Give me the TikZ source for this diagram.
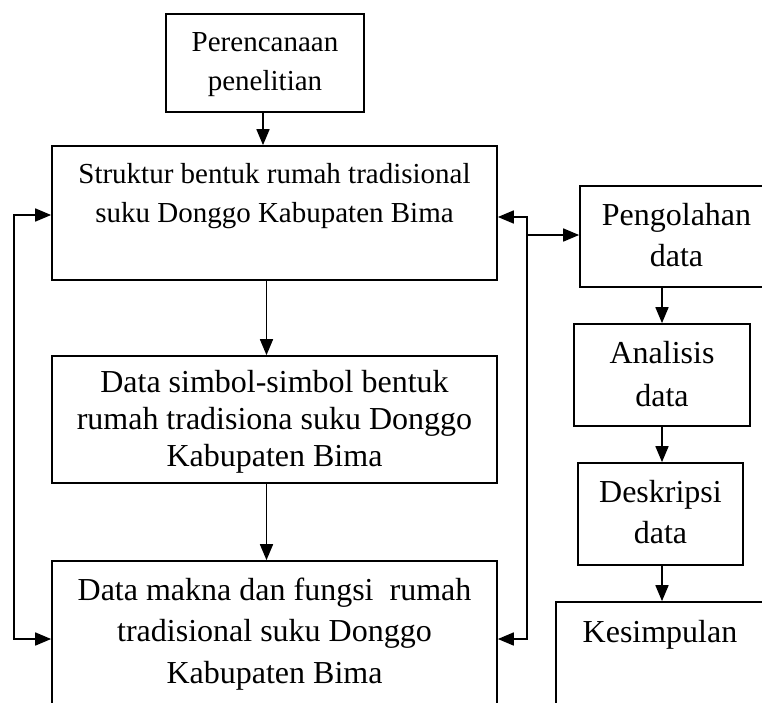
\documentclass[tikz,border=0pt]{standalone}
\usepackage{fontspec}
\setmainfont{Liberation Serif}
\usetikzlibrary{arrows.meta}
\begin{document}
\begin{tikzpicture}[x=1pt,y=-1pt,
  box/.style={draw, line width=1.7pt, align=center, inner sep=0pt},
  fsmall/.style={font=\fontsize{29pt}{#1}\selectfont},
  fbig/.style={font=\fontsize{32pt}{#1}\selectfont},
  tip/.style={Triangle[length=16pt,width=13pt]},
  arr/.style={line width=1.7pt, line join=miter, -{Triangle[length=16pt,width=13pt]}},
  arrboth/.style={line width=1.7pt, line join=miter, {Triangle[length=16pt,width=13pt]}-{Triangle[length=16pt,width=13pt]}}
]
\useasboundingbox (0,0) rectangle (762,702);
\clip (0,0) rectangle (762,702);

\node[box, fsmall=39pt, minimum width=198pt, minimum height=98pt, text depth=2pt] (plan) at (265,63) {Perencanaan\\penelitian};
\node[box, fsmall=39pt, minimum width=445pt, minimum height=134pt, text depth=40.8pt] (struk) at (274.5,213) {Struktur bentuk rumah tradisional\\suku Donggo Kabupaten Bima};
\node[box, fbig=37pt, minimum width=445pt, minimum height=127pt, text depth=3pt] (simbol) at (274.5,419.5) {Data simbol-simbol bentuk\\rumah tradisiona suku Donggo\\Kabupaten Bima};
\node[box, fbig=41.5pt, minimum width=445pt, minimum height=146pt] (makna) at (274.5,634) {Data makna dan fungsi\ \ rumah\\tradisional suku Donggo\\Kabupaten Bima};

\node[box, fbig=41pt, minimum width=193pt, minimum height=101pt, text depth=3pt] (peng) at (676.5,236.5) {Pengolahan\\data};
\node[box, fbig=43pt, minimum width=176pt, minimum height=102pt, text depth=3pt] (anal) at (662,375) {Analisis\\data};
\node[box, fbig=40.5pt, minimum width=165pt, minimum height=102pt, text depth=4pt] (desk) at (660.5,514) {Deskripsi\\data};
\node[box, fbig=40pt, minimum width=208pt, minimum height=138pt, text depth=78.5pt] (kes) at (660,671) {Kesimpulan};

% vertical flow, left column
\draw[arr] ([xshift=-2pt]plan.south) -- ([xshift=-2pt]plan.south |- struk.north);
\draw[arr] ([xshift=-8pt]struk.south) -- ([xshift=-8pt]simbol.north);
\draw[arr] ([xshift=-8pt]simbol.south) -- ([xshift=-8pt]makna.north);

% left loop
\coordinate (L1) at (14,215);
\coordinate (L2) at (14,639);
\draw[arrboth] (struk.west |- L1) -- (L1) -- (L2) -- (makna.west |- L2);

% right loop and branch
\coordinate (R1) at (527,217);
\coordinate (R2) at (527,639);
\coordinate (RP) at (527,235);
\draw[arrboth] (struk.east |- R1) -- (R1) -- (R2) -- (makna.east |- R2);
\draw[arr] (RP) -- (peng.west |- RP);

% right column
\draw[arr] (anal.north |- peng.south) -- (anal.north);
\draw[arr] (anal.south) -- (anal.south |- desk.north);
\draw[arr] (anal.south |- desk.south) -- (anal.south |- kes.north);
\end{tikzpicture}
\end{document}
